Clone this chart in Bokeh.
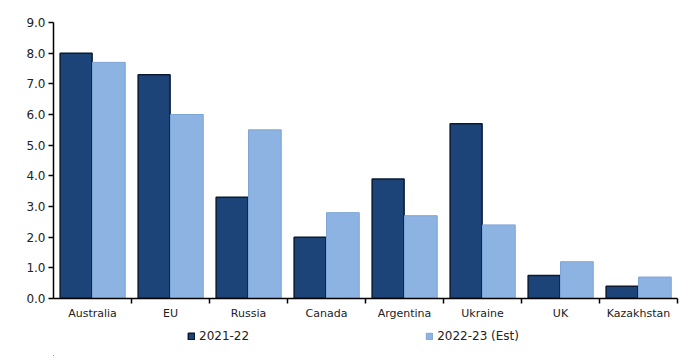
from bokeh.plotting import figure
from bokeh.layouts import column
from bokeh.models import ColumnDataSource, FixedTicker, Legend, LegendItem, Range1d, PrintfTickFormatter
from bokeh.embed import file_html
from bokeh.resources import INLINE

categories = ["Australia", "EU", "Russia", "Canada", "Argentina", "Ukraine", "UK", "Kazakhstan"]
y2021 = [8.0, 7.3, 3.3, 2.0, 3.9, 5.7, 0.75, 0.4]
y2022 = [7.7, 6.0, 5.5, 2.8, 2.7, 2.4, 1.2, 0.7]
series_labels = ["2021-22", "2022-23 (Est)"]
y_ticks = [0, 1, 2, 3, 4, 5, 6, 7, 8, 9]

n = len(categories)
centers = [i + 0.5 for i in range(n)]
src = ColumnDataSource(dict(
    xa=[c - 0.21 for c in centers],
    xb=[c + 0.21 for c in centers],
    a=y2021, b=y2022))

DARK = "#1d4478"
DARK_LINE = "#0a1a33"
LIGHT = "#8db3e2"
LIGHT_LINE = "#7fa5d6"
FONT = "DejaVu Sans"

p = figure(frame_width=624, frame_height=276, output_backend="svg", toolbar_location=None,
           x_range=Range1d(0, n), y_range=Range1d(0, 9),
           min_border_left=53, min_border_right=10, min_border_top=22, min_border_bottom=24)
p.outline_line_color = None
p.xgrid.visible = False
p.ygrid.visible = False

p.vbar(x="xa", top="a", width=0.41, source=src, fill_color=DARK,
       line_color=DARK_LINE, line_width=1.5)
p.vbar(x="xb", top="b", width=0.42, source=src, fill_color=LIGHT,
       line_color=LIGHT_LINE, line_width=1)

xa = p.xaxis[0]
xa.ticker = FixedTicker(ticks=centers, minor_ticks=list(range(1, n + 1)))
xa.major_label_overrides = {c: name for c, name in zip(centers, categories)}
xa.major_tick_in = 0
xa.major_tick_out = 0
xa.minor_tick_in = 0
xa.minor_tick_out = 5
xa.minor_tick_line_color = "black"
xa.minor_tick_line_width = 1.5
xa.axis_line_color = "black"
xa.axis_line_width = 1.5
xa.major_label_text_font = FONT
xa.major_label_text_font_size = "11px"
xa.major_label_text_color = "#222222"
xa.major_label_standoff = 3

ya = p.yaxis[0]
ya.ticker = FixedTicker(ticks=y_ticks, minor_ticks=[])
ya.formatter = PrintfTickFormatter(format="%.1f")
ya.major_tick_in = 0
ya.major_tick_out = 5
ya.major_tick_line_width = 1.5
ya.axis_line_color = "black"
ya.axis_line_width = 1.5
ya.major_label_text_font = FONT
ya.major_label_text_font_size = "12px"
ya.major_label_text_color = "#222222"
ya.major_label_standoff = 3

# legend strip: same data, placed far outside the view, only used for the legend swatches
p2 = figure(frame_width=624, frame_height=34, output_backend="svg", toolbar_location=None,
            x_range=Range1d(1000, 1001), y_range=Range1d(1000, 1001),
            min_border_left=53, min_border_right=10, min_border_top=0, min_border_bottom=0)
p2.outline_line_color = None
p2.axis.visible = False
p2.grid.visible = False
l1 = p2.vbar(x="xa", top="a", width=0.41, source=src, fill_color=DARK,
             line_color=DARK_LINE, line_width=1.5)
l2 = p2.vbar(x="xb", top="b", width=0.42, source=src, fill_color=LIGHT,
             line_color=LIGHT_LINE, line_width=1)

legend = Legend(items=[LegendItem(label=series_labels[0], renderers=[l1]),
                       LegendItem(label=series_labels[1], renderers=[l2])],
                orientation="horizontal", spacing=176, glyph_width=8, glyph_height=8,
                label_standoff=4, border_line_alpha=0, background_fill_alpha=0,
                label_text_font=FONT, label_text_font_size="12px",
                label_text_color="#222222", location=(130, 9), margin=0, padding=4)
p2.add_layout(legend, "center")

layout = column(p, p2, spacing=0)
open("out.html", "w").write(file_html(layout, INLINE))
